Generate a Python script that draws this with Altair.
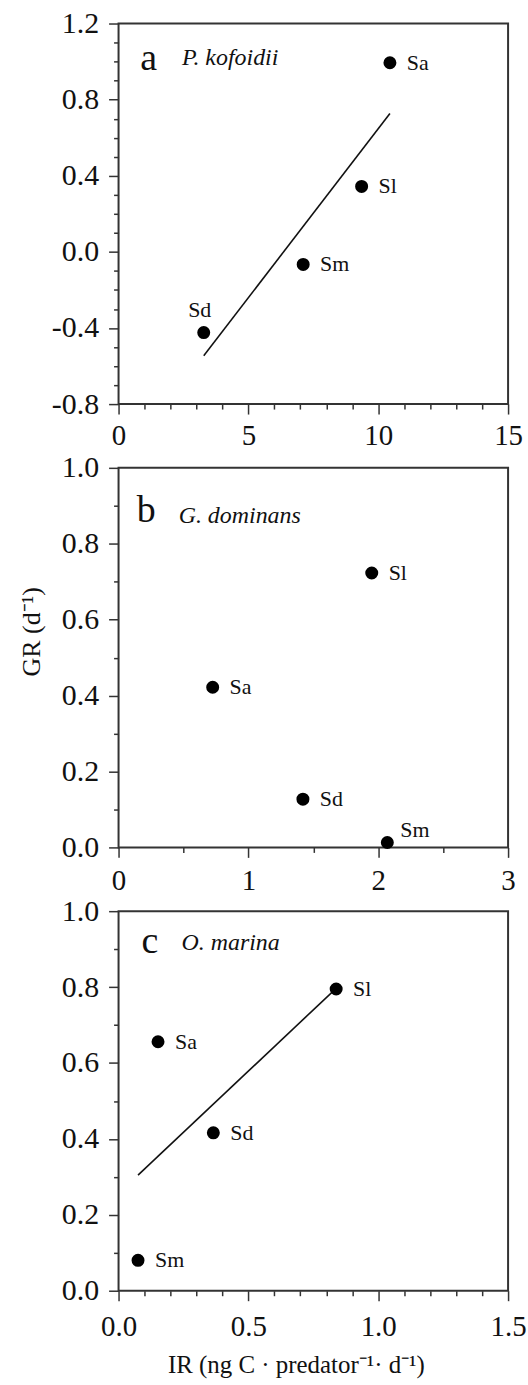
import json
import altair as alt
import pandas as pd

# ---- data: growth rate (GR) vs ingestion rate (IR) for three predators ----
A_NAMES = ["Sa", "Sl", "Sm", "Sd"]
A_IR = [10.45, 9.36, 7.11, 3.28]
A_GR = [0.994, 0.344, -0.066, -0.424]

B_NAMES = ["Sl", "Sa", "Sd", "Sm"]
B_IR = [1.95, 0.725, 1.42, 2.07]
B_GR = [0.723, 0.422, 0.127, 0.013]

C_NAMES = ["Sl", "Sa", "Sd", "Sm"]
C_IR = [0.838, 0.152, 0.365, 0.075]
C_GR = [0.795, 0.656, 0.416, 0.080]

# panel letters and species names (positions in data units)
A_NOTE_TEXT = ["a", "P. kofoidii"]
A_NOTE_X = [0.84, 2.44]
A_NOTE_Y = [0.954, 0.98]
B_NOTE_TEXT = ["b", "G. dominans"]
B_NOTE_X = [0.141, 0.463]
B_NOTE_Y = [0.858, 0.854]
C_NOTE_TEXT = ["c", "O. marina"]
C_NOTE_X = [0.088, 0.2425]
C_NOTE_Y = [0.89, 0.897]

# tick positions (all ticks) and the labelled major ticks
A_XTICKS = list(range(0, 16))
A_XMAJOR = [0, 5, 10, 15]
A_YTICKS = [round(-0.8 + 0.1 * i, 1) for i in range(21)]
A_YMAJOR = [-0.8, -0.4, 0.0, 0.4, 0.8, 1.2]
B_XTICKS = [0, 0.5, 1, 1.5, 2, 2.5, 3]
B_XMAJOR = [0, 1, 2, 3]
B_YTICKS = [round(0.1 * i, 1) for i in range(11)]
B_YMAJOR = [0.0, 0.2, 0.4, 0.6, 0.8, 1.0]
C_XTICKS = [round(0.1 * i, 1) for i in range(16)]
C_XMAJOR = [0.0, 0.5, 1.0, 1.5]
C_YTICKS = B_YTICKS
C_YMAJOR = B_YMAJOR

X_TITLE = "IR (ng C \u00b7 predator\u207b\u00b9\u00b7 d\u207b\u00b9)"
Y_TITLE = "GR (d\u207b\u00b9)"

FONT = "Liberation Serif"
INK = "#111111"
FRAME = "#333333"

W = 391


def make_axis(ticks, major, decimals, label_size, label_pad, **extra):
    is_major = f"indexof({json.dumps(major)}, datum.value) >= 0"
    label = (f"{is_major} ? (datum.value < 0 ? '-' : '') + "
             f"format(abs(datum.value), '.{decimals}f') : ''")
    return alt.Axis(
        values=ticks,
        labelExpr=label,
        labelFont=FONT,
        labelColor=INK,
        labelFontSize=label_size,
        labelPadding=label_pad,
        labelOverlap=False,
        labelFlush=False,
        tickSize={"condition": {"test": is_major, "value": 10}, "value": 5},
        **extra,
    )


def panel(names, ir, gr, notes, xdom, ydom, xaxis, yaxis, height,
          special=None, fit=False):
    df = pd.DataFrame({"name": names, "ir": ir, "gr": gr})
    text, nx, ny = notes
    note_df = pd.DataFrame({"name": text, "ir": nx, "gr": ny})

    # every layer uses the very same positional encodings, so the axes merge
    x = alt.X("ir:Q", scale=alt.Scale(domain=xdom, nice=False, zero=False), axis=xaxis)
    y = alt.Y("gr:Q", scale=alt.Scale(domain=ydom, nice=False, zero=False), axis=yaxis)
    base = alt.Chart(df).encode(x=x, y=y)

    layers = []
    if fit:
        layers.append(
            alt.Chart(df)
            .transform_regression("ir", "gr")
            .mark_line(color="#111111", strokeWidth=1.6)
            .encode(x=x, y=y)
        )
    layers.append(base.mark_circle(size=170, color="#000000", opacity=1))

    special = special or {}
    plain = [n for n in names if n not in special]
    layers.append(
        base.transform_filter(alt.FieldOneOfPredicate(field="name", oneOf=plain))
        .mark_text(align="left", baseline="middle", dx=17, font=FONT,
                   fontSize=22, color=INK)
        .encode(text="name:N")
    )
    for nm, style in special.items():
        layers.append(
            base.transform_filter(alt.datum.name == nm)
            .mark_text(font=FONT, fontSize=22, color=INK, **style)
            .encode(text="name:N")
        )

    nb = alt.Chart(note_df).encode(x=x, y=y, text="name:N")
    layers.append(
        nb.transform_filter(alt.datum.name == text[0])
        .mark_text(align="left", baseline="alphabetic", font=FONT, fontSize=38,
                   color=INK)
    )
    layers.append(
        nb.transform_filter(alt.datum.name == text[1])
        .mark_text(align="left", baseline="alphabetic", font=FONT, fontSize=24,
                   fontStyle="italic", color=INK)
    )
    return alt.layer(*layers).properties(
        width=W, height=height,
        view=alt.ViewBackground(stroke=FRAME, strokeWidth=2, fill="white"),
    )


pa = panel(
    A_NAMES, A_IR, A_GR, (A_NOTE_TEXT, A_NOTE_X, A_NOTE_Y),
    [0, 15], [-0.8, 1.2],
    make_axis(A_XTICKS, A_XMAJOR, 0, 29, 8, title=None),
    make_axis(A_YTICKS, A_YMAJOR, 1, 30, 10, title=None),
    382,
    special={"Sd": dict(align="center", baseline="alphabetic", dx=-4, dy=-16)},
    fit=True,
)

pb = panel(
    B_NAMES, B_IR, B_GR, (B_NOTE_TEXT, B_NOTE_X, B_NOTE_Y),
    [0, 3], [0, 1.0],
    make_axis(B_XTICKS, B_XMAJOR, 0, 29, 9, title=None),
    make_axis(B_YTICKS, B_YMAJOR, 1, 30, 10, title=Y_TITLE,
              titleFontSize=26, titleAngle=270, titleAlign="center",
              titleBaseline="middle", titleX=-87.5, titleY=164),
    381,
    special={"Sm": dict(align="left", baseline="middle", dx=13, dy=-12)},
)

pc = panel(
    C_NAMES, C_IR, C_GR, (C_NOTE_TEXT, C_NOTE_X, C_NOTE_Y),
    [0, 1.5], [0, 1.0],
    make_axis(C_XTICKS, C_XMAJOR, 1, 29, 12, title=X_TITLE,
              titleFontSize=25, titleAlign="center", titleBaseline="alphabetic",
              titleX=178, titleY=82),
    make_axis(C_YTICKS, C_YMAJOR, 1, 30, 10, title=None),
    381,
    fit=True,
)

chart = (
    alt.vconcat(pa, pb, pc, spacing=64, bounds="flush")
    .properties(padding={"left": 17, "top": 5, "right": 0, "bottom": 0},
                background="white")
    .configure_view(stroke=FRAME, strokeWidth=2)
    .configure_axis(
        labelFont=FONT, labelColor=INK, labelOverlap=False, labelFlush=False,
        titleFont=FONT, titleColor=INK, titleFontWeight="normal",
        tickColor=FRAME, tickWidth=1.5, domain=False, grid=False,
    )
)

chart.save("out.html", embed_options={"renderer": "svg", "actions": False})
